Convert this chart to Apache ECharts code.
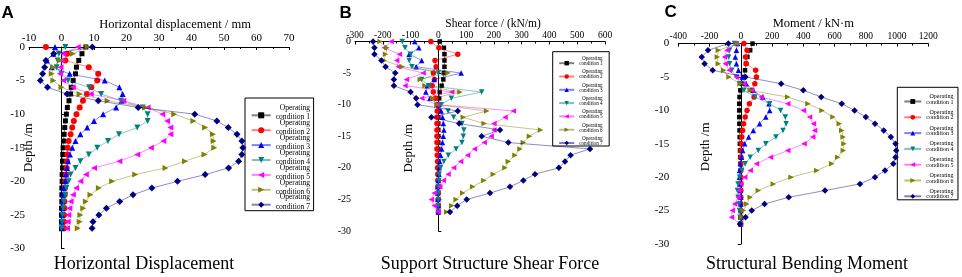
<!DOCTYPE html>
<html><head><meta charset="utf-8">
<script src="https://cdn.jsdelivr.net/npm/echarts@6/dist/echarts.min.js"></script>
<style>html,body{margin:0;padding:0;background:#fff}#c{width:962px;height:277px}</style>
</head><body><div id="c"></div>
<script>
// ---- data ----
const depth = [0, -1, -2, -3, -4, -5, -6, -7, -8, -9, -10, -11, -12, -13, -14, -15, -16, -17, -18, -19, -20, -21, -22, -23, -24, -25, -26, -27];
const conditionNames = ['Operating condition 1', 'Operating condition 2', 'Operating condition 3', 'Operating condition 4', 'Operating condition 5', 'Operating condition 6', 'Operating condition 7'];

// A: horizontal displacement (mm)
const dispC1 = [7.5, 6.3, 5.3, 4.6, 4.3, 3.6, 3.0, 2.8, 2.3, 1.8, 1.5, 1.2, 1.0, 0.8, 0.6, 0.5, 0.4, 0.3, 0.3, 0.2, 0.2, 0.1, 0.1, 0.1, 0.0, 0.0, 0.0, 0.0];
const dispC2 = [-4.8, 1.7, 1.2, 8.4, 11.3, 11.0, 9.2, 7.8, 6.6, 5.6, 4.6, 3.8, 3.3, 2.8, 2.2, 1.9, 1.8, 1.7, 1.6, 1.4, 1.2, 1.1, 1.0, 0.9, 0.9, 0.8, 0.8, 0.8];
const dispC3 = [-2.0, -2.5, -4.5, -3.0, 2.5, 13.3, 17.8, 18.8, 18.5, 16.8, 12.8, 10.0, 7.9, 5.8, 4.3, 3.3, 2.6, 2.0, 1.7, 1.4, 1.2, 0.7, 0.5, 0.3, 0.3, 0.2, 0.1, 0.1];
const dispC4 = [1.2, -0.8, -1.2, -1.5, 0.0, 2.0, 8.5, 12.2, 18.3, 25.0, 26.5, 26.5, 23.3, 17.7, 14.3, 11.0, 8.4, 5.8, 4.3, 2.8, 2.2, 1.5, 1.2, 0.7, 0.5, 0.3, 0.2, 0.0];
const dispC5 = [5.0, 0.5, 0.0, -0.3, -0.5, 0.5, 3.5, 9.0, 19.0, 26.5, 31.0, 32.5, 33.5, 33.5, 31.3, 27.5, 23.3, 17.8, 10.0, 7.5, 5.8, 4.5, 3.5, 2.8, 2.4, 2.1, 1.9, 1.7];
const dispC6 = [8.0, 3.5, -0.5, -2.5, -3.0, -2.5, 0.0, 5.6, 14.2, 25.8, 34.7, 40.6, 44.2, 46.6, 46.8, 47.0, 44.0, 38.0, 32.0, 22.7, 15.6, 11.5, 8.9, 7.5, 6.7, 5.8, 5.6, 5.0];
const dispC7 = [9.5, -2.4, -4.8, -5.2, -5.8, -6.5, -4.3, 1.7, 11.3, 23.6, 41.0, 47.8, 51.3, 54.0, 55.5, 55.8, 55.5, 54.5, 51.4, 44.2, 35.7, 27.8, 22.0, 17.9, 13.8, 11.5, 9.7, 9.4];

// B: shear force (kN/m)
const shearC1 = [5, 20, 22, 22, 22, 20, 18, 12, 5, 3, 2, 1, 0, 0, 0, 0, 0, 0, 0, 0, 0, 0, 0, 0, 0, 0, 0, 0];
const shearC2 = [-27, 2, 70, -12, -8, -18, -14, -22, -18, -10, -2, -4, -5, -5, -5, -5, -5, -5, -4, -3, -3, -2, -2, -2, -1, -1, 0, 0];
const shearC3 = [-85, -70, -105, -60, -80, 82, -15, -40, -45, -30, 0, 10, 15, 18, 20, 18, 15, 12, 8, 5, 3, 2, 0, -2, -3, -2, 0, 0];
const shearC4 = [-130, -120, -100, -105, -95, 0, -60, -35, 156, 47, 10, 35, 55, 85, 92, 90, 85, 64, 36, 20, 8, 3, 2, 0, 0, 0, 0, 0];
const shearC5 = [-170, -195, -140, -150, -145, -55, -115, -120, 48, -60, -5, 270, 240, 200, 200, 190, 165, 130, 105, 80, 55, 35, 18, 5, -15, -25, -15, 0];
const shearC6 = [-210, -185, -190, -195, -130, 35, -65, -48, 78, -20, -5, 174, 90, 165, 368, 328, 306, 294, 276, 252, 240, 198, 164, 124, 88, 64, 48, 30];
const shearC7 = [-235, -230, -230, -205, -190, -155, -160, -160, -100, -80, -75, 70, -25, 75, 222, 156, 252, 546, 476, 456, 434, 348, 306, 258, 186, 102, 68, 42];

// C: bending moment (kN·m)
const momC1 = [75, 60, 42, 33, 27, 20, 8, -3, -8, -10, -10, -10, -9, -8, -7, -6, -5, -4, -3, -2, -2, -1, 0, 0, 0, 0, 0, 0];
const momC2 = [20, 40, 30, 35, 95, 100, 90, 70, 85, 55, 40, 28, 18, 12, 6, 3, 2, 1, 0, 0, 0, 0, 0, 0, 0, 0, 0, 0];
const momC3 = [-20, -28, -35, -28, -15, 10, 35, 80, 140, 180, 185, 160, 120, 80, 50, 25, 12, 5, -3, -8, -9, -6, -2, 0, 1, 1, 0, 0];
const momC4 = [-40, -72, -78, -72, -58, -28, -7, 20, 90, 185, 255, 285, 290, 270, 225, 160, 112, 60, 28, 6, -8, -18, -22, -18, -12, -8, -5, 0];
const momC5 = [-30, -90, -105, -100, -75, -30, 20, 70, 130, 300, 400, 440, 465, 472, 460, 405, 300, 190, 100, 60, 25, 0, -12, -18, -40, -55, -60, -5];
const momC6 = [-20, -144, -150, -144, -110, -75, -5, 60, 300, 430, 520, 590, 630, 646, 655, 660, 656, 620, 582, 486, 322, 208, 112, 60, 38, 16, 6, 0];
const momC7 = [-80, -210, -250, -232, -180, 30, 258, 400, 515, 646, 728, 800, 859, 915, 960, 990, 995, 990, 976, 923, 859, 763, 539, 307, 152, 70, 30, -5];

// tick labels
const dispTicks = [-10, 0, 10, 20, 30, 40, 50, 60, 70];
const shearTicks = [-300, -200, -100, 0, 100, 200, 300, 400, 500, 600];
const momTicks = [-400, -200, 0, 200, 400, 600, 800, 1000, 1200];
const depthTicks = [-30, -25, -20, -15, -10, -5, 0];

// ---- styles ----
const SERIF = 'Liberation Serif';
const colors = ['#000000', '#ff0000', '#0000ff', '#008080', '#ff00ff', '#808000', '#000080'];
const symbols = ['rect', 'circle', 'triangle', 'triangle', 'triangle', 'triangle', 'diamond'];
const rotates = [0, 0, 0, 180, 90, -90, 0];

const panels = [
  { values: [dispC1, dispC2, dispC3, dispC4, dispC5, dispC6, dispC7], ticks: dispTicks,
    name: 'Horizontal displacement / mm', nameSize: 12.5, nameGap: 16, namePadL: 32,
    grid: { left: 29, right: 673, top: 47, bottom: 28.5 }, xLabelSize: 11, xMargin: 3.5,
    yLabelSize: 11, yMargin: 4, yNameGap: -5.8, yNamePad: [0, 0, 0, 0], yTickInside: true,
    sizes: [5, 6, 6, 6, 6, 6, 7] },
  { values: [shearC1, shearC2, shearC3, shearC4, shearC5, shearC6, shearC7], ticks: shearTicks,
    name: 'Shear force / (kN/m)', nameSize: 11.5, nameGap: 12, namePadL: 26,
    grid: { left: 355, right: 357, top: 41.5, bottom: 46 }, xLabelSize: 9.5, xMargin: 1.5,
    yLabelSize: 10, yMargin: 4, yNameGap: -59.8, yNamePad: [0, 24, 0, 0], yTickInside: true,
    sizes: [4.5, 5.5, 5.5, 5.5, 5.5, 5.5, 6.5] },
  { values: [momC1, momC2, momC3, momC4, momC5, momC6, momC7], ticks: momTicks,
    name: 'Moment / kN·m', nameSize: 12.5, nameGap: 13, namePadL: 20,
    grid: { left: 678.3, right: 33.7, top: 43.6, bottom: 33 }, xLabelSize: 9.5, xMargin: 2,
    yLabelSize: 11, yMargin: 9, yNameGap: -33.5, yNamePad: [0, 6, 0, 0], yTickInside: false,
    sizes: [4.5, 5.5, 5.5, 5.5, 5.5, 5.5, 6.5] }
];

const legendCfg = [
  { left: 245, top: 98, pad: [6, 3.5, 0, 5.7], w: 19, ih: 7.5, gap: 3.3, fs: 7.6, a: 4, b: 14.6, stride: 16.2 },
  { left: 552.7, top: 51.7, pad: [4.5, 6.5, 0, 5.5], w: 15, ih: 5.5, gap: 8, fs: 5.2, a: 1, b: 9, stride: 13.3 },
  { left: 897.3, top: 87.3, pad: [6.2, 4.5, 0, 6], w: 17, ih: 6, gap: 6.5, fs: 6, a: 1, b: 10, stride: 15.3 }
];

const grids = [], xAxes = [], yAxes = [], series = [], legends = [];
panels.forEach((p, pi) => {
  grids.push(Object.assign({ containLabel: false, outerBoundsMode: 'none' }, p.grid));
  xAxes.push({
    type: 'value', gridIndex: pi, position: 'top',
    min: p.ticks[0], max: p.ticks[p.ticks.length - 1], interval: p.ticks[1] - p.ticks[0],
    name: p.name, nameLocation: 'middle', nameGap: p.nameGap, nameMoveOverlap: false,
    nameTextStyle: { fontFamily: SERIF, fontSize: p.nameSize, color: '#000', padding: [0, 0, 0, p.namePadL] },
    axisLine: { show: true, onZero: true, lineStyle: { color: '#000', width: 1 } },
    axisTick: { show: true, inside: true, length: 3, lineStyle: { color: '#000' } },
    minorTick: { show: true, splitNumber: 2, length: 2, lineStyle: { color: '#000' } },
    axisLabel: { fontFamily: SERIF, fontSize: p.xLabelSize, color: '#000', margin: p.xMargin,
                 formatter: v => String(v) },
    splitLine: { show: false }
  });
  yAxes.push({
    type: 'value', gridIndex: pi,
    min: depthTicks[0], max: depthTicks[depthTicks.length - 1], interval: depthTicks[1] - depthTicks[0],
    name: 'Depth /m', nameLocation: 'middle', nameGap: p.yNameGap, nameMoveOverlap: false,
    nameTextStyle: { fontFamily: SERIF, fontSize: 13, color: '#000', padding: p.yNamePad },
    axisLine: { show: true, onZero: true, lineStyle: { color: '#000', width: 1 } },
    axisTick: { show: true, inside: p.yTickInside, length: 3, lineStyle: { color: '#000' } },
    axisLabel: { fontFamily: SERIF, fontSize: p.yLabelSize, color: '#000', margin: p.yMargin,
                 formatter: v => String(v) },
    splitLine: { show: false }
  });
  p.values.forEach((arr, k) => {
    series.push({
      type: 'line', name: conditionNames[k], xAxisIndex: pi, yAxisIndex: pi,
      data: arr.map((v, i) => [v, depth[i]]),
      symbol: symbols[k], symbolRotate: rotates[k], symbolSize: p.sizes[k],
      itemStyle: { color: colors[k] },
      lineStyle: { color: colors[k], width: 0.9, opacity: 0.5 },
      emphasis: { disabled: true }, animation: false, z: 2 + k
    });
  });
  const L = legendCfg[pi];
  legends.push({
    orient: 'vertical', left: L.left, top: L.top, padding: L.pad,
    itemWidth: L.w, itemHeight: L.ih, itemGap: L.stride - (L.a + L.b), itemTextGap: L.gap,
    borderColor: '#000', borderWidth: 1, borderRadius: 0, backgroundColor: '#fff',
    selectedMode: false,
    data: conditionNames,
    formatter: function (nm) {
      const parts = nm.split(' ');
      return '{a|' + parts[0] + '}\n{b|' + parts[1] + ' ' + parts[2] + '}';
    },
    textStyle: {
      fontFamily: SERIF, fontSize: L.fs, color: '#000',
      rich: {
        a: { fontFamily: SERIF, fontSize: L.fs, lineHeight: L.a, align: 'right', color: '#000' },
        b: { fontFamily: SERIF, fontSize: L.fs, lineHeight: L.b, align: 'right', color: '#000' }
      }
    }
  });
});

const letterStyle = { fontFamily: 'Liberation Sans', fontWeight: 'bold', fontSize: 17, color: '#000' };
const bottomStyle = { fontFamily: SERIF, fontWeight: 'normal', fontSize: 18, color: '#000' };
const titles = [
  { text: 'A', left: 1.5, top: 4.9, padding: 0, textStyle: letterStyle },
  { text: 'B', left: 339.5, top: 4.5, padding: 0, textStyle: letterStyle },
  { text: 'C', left: 664.5, top: 3.8, padding: 0, textStyle: letterStyle },
  { text: 'Horizontal Displacement', left: 144, top: 255, padding: 0, textAlign: 'center', textStyle: bottomStyle },
  { text: 'Support Structure Shear Force', left: 490, top: 255, padding: 0, textAlign: 'center', textStyle: bottomStyle },
  { text: 'Structural Bending Moment', left: 807, top: 255, padding: 0, textAlign: 'center', textStyle: bottomStyle }
];

const chart = echarts.init(document.getElementById('c'));
chart.setOption({
  backgroundColor: '#fff',
  animation: false,
  title: titles,
  legend: legends,
  grid: grids,
  xAxis: xAxes,
  yAxis: yAxes,
  series: series
});
</script>
</body></html>
